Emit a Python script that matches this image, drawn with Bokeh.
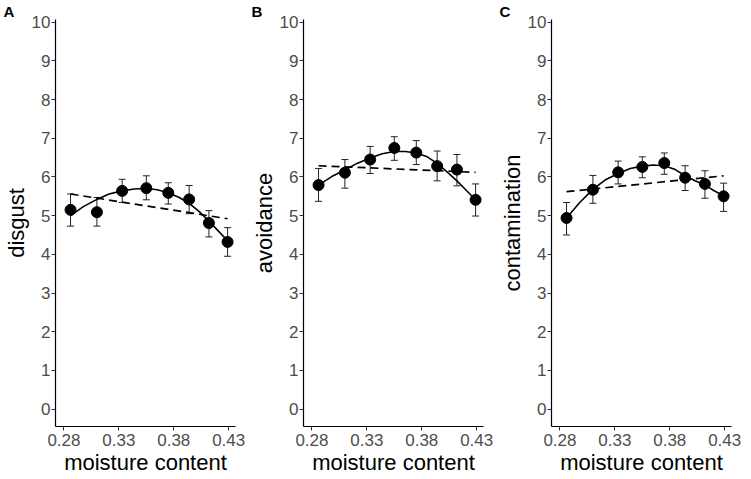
from bokeh.plotting import figure
from bokeh.layouts import row
from bokeh.models import FixedTicker, Range1d, Whisker, ColumnDataSource, TeeHead
from bokeh.embed import file_html
from bokeh.resources import INLINE

# moisture content of each condition
moisture = [0.286, 0.310, 0.333, 0.355, 0.375, 0.394, 0.412, 0.429]
x_ticks = [0.28, 0.33, 0.38, 0.43]
y_ticks = [0, 1, 2, 3, 4, 5, 6, 7, 8, 9, 10]

# A: disgust
disgust_mean = [5.15, 5.09, 5.64, 5.71, 5.59, 5.42, 4.81, 4.32]
disgust_upper = [5.56, 5.47, 5.94, 6.03, 5.85, 5.78, 5.13, 4.69]
disgust_lower = [4.73, 4.73, 5.34, 5.41, 5.30, 5.05, 4.45, 3.95]

# B: avoidance
avoid_mean = [5.79, 6.11, 6.45, 6.75, 6.63, 6.28, 6.19, 5.41]
avoid_upper = [6.22, 6.45, 6.79, 7.04, 6.94, 6.67, 6.58, 5.82]
avoid_lower = [5.37, 5.71, 6.09, 6.43, 6.32, 5.90, 5.77, 4.99]

# C: contamination
contam_mean = [4.94, 5.67, 6.12, 6.26, 6.36, 5.98, 5.82, 5.50]
contam_upper = [5.34, 6.04, 6.41, 6.52, 6.62, 6.29, 6.16, 5.84]
contam_lower = [4.50, 5.32, 5.82, 5.98, 6.07, 5.65, 5.45, 5.11]

# fitted curves
curve_x = [0.286, 0.298, 0.310, 0.321, 0.333, 0.344, 0.355, 0.365,
           0.375, 0.385, 0.394, 0.403, 0.412, 0.420, 0.429]
disgust_quad = [5.00, 5.24, 5.42, 5.56, 5.64, 5.69, 5.70, 5.67,
                5.59, 5.47, 5.32, 5.11, 4.86, 4.62, 4.35]
avoid_quad = [5.79, 6.01, 6.18, 6.35, 6.49, 6.60, 6.66, 6.66,
              6.62, 6.52, 6.35, 6.13, 5.90, 5.67, 5.41]
contam_quad = [4.94, 5.34, 5.68, 5.92, 6.09, 6.22, 6.28, 6.31,
               6.29, 6.19, 6.03, 5.90, 5.79, 5.65, 5.51]

line_x = [0.286, 0.429]
disgust_lin = [5.56, 4.92]
avoid_lin = [6.29, 6.12]
contam_lin = [5.62, 6.03]

FONT = "Liberation Sans"


def panel(letter, ylabel, mean, lower, upper, quad, lin, br):
    p = figure(frame_width=180, frame_height=407,
               x_range=Range1d(0.2723, 0.4362), y_range=Range1d(-0.45, 10.07),
               output_backend="svg", toolbar_location=None,
               min_border_left=40, min_border_right=br,
               min_border_top=0, min_border_bottom=0)
    p.outline_line_color = None
    p.grid.visible = False
    p.background_fill_color = "white"
    p.border_fill_color = "white"

    p.title.text = letter
    p.title.align = "left"
    p.title.offset = -52
    p.title.standoff = 0
    p.title.text_font = FONT
    p.title.text_font_size = "15px"
    p.title.text_font_style = "bold"
    p.title.text_color = "black"

    for ax in (p.xaxis[0], p.yaxis[0]):
        ax.axis_line_color = "black"
        ax.axis_line_width = 1.2
        ax.major_tick_line_color = "#333333"
        ax.major_tick_in = 0
        ax.major_tick_out = 4
        ax.minor_tick_line_color = None
        ax.major_label_text_font = FONT
        ax.major_label_text_font_size = "17px"
        ax.major_label_text_color = "#4D4D4D"
        ax.axis_label_text_font = FONT
        ax.axis_label_text_font_size = "22px"
        ax.axis_label_text_font_style = "normal"
        ax.axis_label_text_color = "black"
    p.xaxis[0].ticker = FixedTicker(ticks=x_ticks)
    p.yaxis[0].ticker = FixedTicker(ticks=y_ticks)
    p.xaxis[0].axis_label = "moisture content"
    p.yaxis[0].axis_label = ylabel
    p.xaxis[0].major_label_standoff = 3
    p.yaxis[0].major_label_standoff = 1
    p.xaxis[0].axis_label_standoff = 1
    p.yaxis[0].axis_label_standoff = 0

    p.line(line_x, lin, line_color="black", line_width=1.7, line_dash="8 5")
    p.line(curve_x, quad, line_color="black", line_width=1.6)

    src = ColumnDataSource(dict(x=moisture, lower=lower, upper=upper))
    w = Whisker(base="x", lower="lower", upper="upper", source=src,
                line_color="#222222", line_width=1,
                upper_head=TeeHead(size=7, line_color="#222222", line_width=1),
                lower_head=TeeHead(size=7, line_color="#222222", line_width=1))
    p.add_layout(w)

    p.scatter(moisture, mean, size=11, fill_color="black", line_color="black")
    return p


pA = panel("A", "disgust", disgust_mean, disgust_lower, disgust_upper,
           disgust_quad, disgust_lin, 13)
pB = panel("B", "avoidance", avoid_mean, avoid_lower, avoid_upper,
           avoid_quad, avoid_lin, 13)
pC = panel("C", "contamination", contam_mean, contam_lower, contam_upper,
           contam_quad, contam_lin, 11)

layout = row(pA, pB, pC)
open("out.html", "w").write(file_html(layout, INLINE))
